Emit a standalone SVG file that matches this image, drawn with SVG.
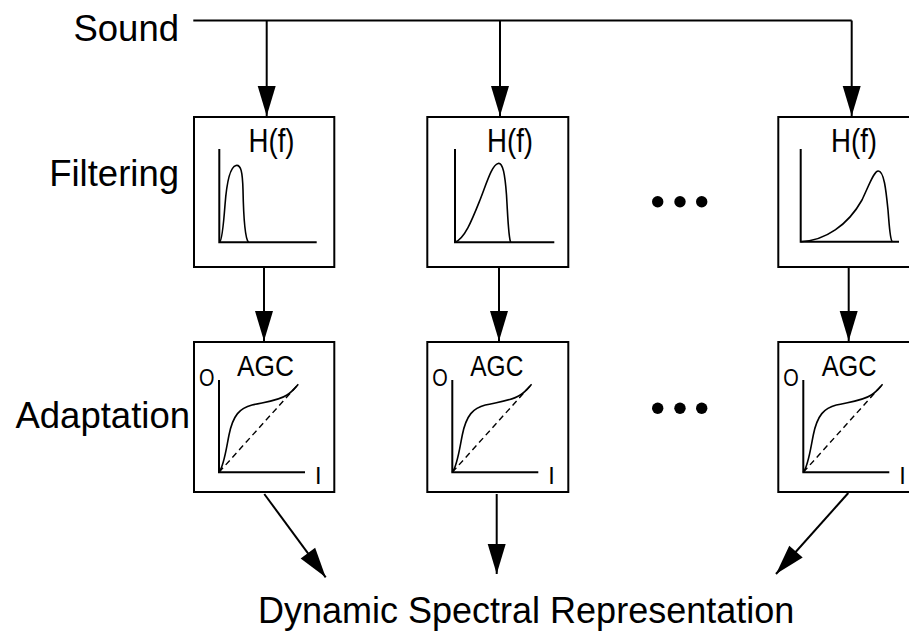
<svg xmlns="http://www.w3.org/2000/svg" width="909" height="637" viewBox="0 0 909 637">
  <style>
    .label { font-family: "Liberation Sans", Arial, sans-serif; font-size: 36.5px; fill: #000; }
    .box { fill: #fff; stroke: #000; stroke-width: 2; }
    .axis { fill: none; stroke: #000; stroke-width: 2; }
    .curve { fill: none; stroke: #000; stroke-width: 1.6; }
    .ident { fill: none; stroke: #000; stroke-width: 1.4; stroke-dasharray: 6 4; }
    .small { font-family: "Liberation Sans", Arial, sans-serif; fill: #000; }
    .wire { fill: none; stroke: #000; stroke-width: 2; }
    .arrow { fill: none; stroke: #000; stroke-width: 2; marker-end: url(#head); }
  </style>
  <defs>
    <marker id="head" markerUnits="userSpaceOnUse" markerWidth="31" markerHeight="18" refX="30" refY="9" orient="auto" overflow="visible">
      <path d="M0,0 L30,9 L0,18 Z" fill="#000"/>
    </marker>
  </defs>
  <rect width="909" height="637" fill="#fff"/>

  <!-- row labels -->
  <g id="labels">
    <text class="label" x="179" y="41" text-anchor="end">Sound</text>
    <text class="label" x="179" y="186" text-anchor="end">Filtering</text>
    <text class="label" x="190" y="428" text-anchor="end">Adaptation</text>
    <text class="label" x="258" y="623" style="font-size:36px">Dynamic Spectral Representation</text>
  </g>

  <!-- connectors -->
  <g id="connectors">
    <polyline class="wire" points="193.3,20.5 851.7,20.5"/>
    <line class="arrow" x1="266.7" y1="20.5" x2="266.7" y2="116"/>
    <line class="arrow" x1="500" y1="20.5" x2="500" y2="116"/>
    <line class="arrow" x1="851.7" y1="20.5" x2="851.7" y2="116"/>
    <line class="arrow" x1="264" y1="267" x2="264" y2="341"/>
    <line class="arrow" x1="499" y1="267" x2="499" y2="341"/>
    <line class="arrow" x1="848.7" y1="267" x2="848.7" y2="341"/>
    <line class="arrow" x1="264.3" y1="494" x2="325.7" y2="577.3"/>
    <line class="arrow" x1="496.7" y1="494" x2="496.7" y2="574"/>
    <line class="arrow" x1="848.3" y1="493" x2="776" y2="574"/>
  </g>

  <!-- filter channel 1 -->
  <g id="filter1">
    <rect class="box" x="194" y="117" width="140.3" height="150"/>
    <text class="small" x="248.5" y="152" font-size="33" textLength="46" lengthAdjust="spacingAndGlyphs">H(f)</text>
    <polyline class="axis" points="219.3,149 219.3,242.3 316.7,242.3"/>
    <path class="curve" d="M219.5,242.3 C222,241 223.5,225 225,205 C226.5,185 230,167 236,165.5 C241,164.5 242.5,172 243,190 C243.5,215 244.5,238 248.5,242.3"/>
  </g>

  <!-- filter channel 2 -->
  <g id="filter2">
    <rect class="box" x="427.3" y="117" width="141" height="150"/>
    <text class="small" x="487" y="152" font-size="33" textLength="46" lengthAdjust="spacingAndGlyphs">H(f)</text>
    <polyline class="axis" points="455,149 455,242.3 554.3,242.3"/>
    <path class="curve" d="M455,242.3 C465,238 472,220 480,200 C487,182 492,165 498,163.5 C503,162 505,175 506.5,195 C508,220 508.5,238 510.7,242.3"/>
  </g>

  <!-- filter channel N -->
  <g id="filter3">
    <rect class="box" x="778.3" y="117" width="141" height="150"/>
    <text class="small" x="831" y="152" font-size="33" textLength="46" lengthAdjust="spacingAndGlyphs">H(f)</text>
    <polyline class="axis" points="800.7,149 800.7,241.7 899,241.7"/>
    <path class="curve" d="M800.7,241.7 C825,241 848,225 862,200 C870,183 874,171 878.3,171 C884,171 886,190 888,210 C889.5,228 890,240 892.3,241.7"/>
  </g>

  <!-- AGC channel 1 -->
  <g id="agc1">
    <rect class="box" x="194" y="342" width="140.3" height="150"/>
    <text class="small" x="237" y="375.5" font-size="30" textLength="57" lengthAdjust="spacingAndGlyphs">AGC</text>
    <text class="small" x="199" y="386" font-size="23.5" textLength="15.5" lengthAdjust="spacingAndGlyphs">O</text>
    <text class="small" x="315" y="484" font-size="23.5">I</text>
    <polyline class="axis" points="219,380 219,472.3 305,472.3"/>
    <line class="ident" x1="219" y1="472.3" x2="298.3" y2="384.3"/>
    <path class="curve" d="M219,472.3 C224,466 226,450 229,435 C233,415 240,408 252,405 C265,402 278,401 287,395 C292,392 295,388 298.3,384.3"/>
  </g>

  <!-- AGC channel 2 -->
  <g id="agc2" transform="translate(233.3,0)">
    <rect class="box" x="194" y="342" width="141" height="150"/>
    <text class="small" x="237" y="375.5" font-size="30" textLength="53" lengthAdjust="spacingAndGlyphs">AGC</text>
    <text class="small" x="199" y="386" font-size="23.5" textLength="15.5" lengthAdjust="spacingAndGlyphs">O</text>
    <text class="small" x="315" y="484" font-size="23.5">I</text>
    <polyline class="axis" points="219,380 219,472.3 305,472.3"/>
    <line class="ident" x1="219" y1="472.3" x2="298.3" y2="384.3"/>
    <path class="curve" d="M219,472.3 C224,466 226,450 229,435 C233,415 240,408 252,405 C265,402 278,401 287,395 C292,392 295,388 298.3,384.3"/>
  </g>

  <!-- AGC channel N -->
  <g id="agc3" transform="translate(584.3,0)">
    <rect class="box" x="194" y="342" width="141" height="150"/>
    <text class="small" x="237.4" y="375.5" font-size="30" textLength="55" lengthAdjust="spacingAndGlyphs">AGC</text>
    <text class="small" x="199" y="386" font-size="23.5" textLength="15.5" lengthAdjust="spacingAndGlyphs">O</text>
    <text class="small" x="315" y="484" font-size="23.5">I</text>
    <polyline class="axis" points="219,380 219,472.3 305,472.3"/>
    <line class="ident" x1="219" y1="472.3" x2="298.3" y2="384.3"/>
    <path class="curve" d="M219,472.3 C224,466 226,450 229,435 C233,415 240,408 252,405 C265,402 278,401 287,395 C292,392 295,388 298.3,384.3"/>
  </g>

  <!-- ellipses between channels -->
  <g id="dots-filter">
    <circle cx="657.7" cy="201.7" r="5.7"/>
    <circle cx="680" cy="201.7" r="5.7"/>
    <circle cx="701.7" cy="201.7" r="5.7"/>
  </g>
  <g id="dots-agc">
    <circle cx="657.7" cy="408.3" r="5.7"/>
    <circle cx="680" cy="408.3" r="5.7"/>
    <circle cx="701.7" cy="408.3" r="5.7"/>
  </g>
</svg>
